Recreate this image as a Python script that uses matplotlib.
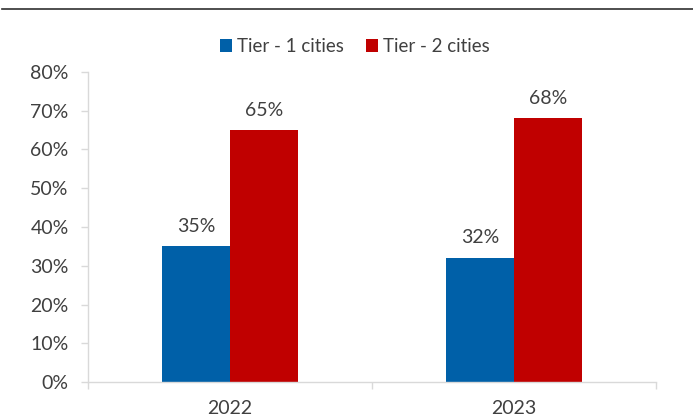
import numpy as np
import matplotlib.pyplot as plt
from matplotlib.lines import Line2D

plt.rcParams['font.family'] = ['Lato', 'DejaVu Sans']

years = ["2022", "2023"]
tier1 = [35, 32]
tier2 = [65, 68]
series_names = ["Tier - 1 cities", "Tier - 2 cities"]
colors = ["#0060A8", "#C00000"]
text_color = "#404040"
grid_gray = "#D9D9D9"

fig = plt.figure(figsize=(6.93, 4.19), dpi=100)
ax = fig.add_axes([88 / 693, 1 - 382 / 419, (656 - 88) / 693, (382 - 72) / 419])

x = np.arange(len(years))
w = 0.24
b1 = ax.bar(x - w / 2, tier1, w, color=colors[0], label=series_names[0])
b2 = ax.bar(x + w / 2, tier2, w, color=colors[1], label=series_names[1])

for bars, vals in ((b1, tier1), (b2, tier2)):
    for r, v in zip(bars, vals):
        ax.text(r.get_x() + r.get_width() / 2, v + 3.0, f"{v}%",
                ha="center", va="bottom", fontsize=14, color=text_color)

ax.set_xlim(-0.5, 1.5)
ax.set_ylim(0, 80)
ax.set_yticks(range(0, 81, 10))
ax.set_yticklabels([f"{t}%" for t in range(0, 81, 10)])
ax.set_xticks(x)
ax.set_xticklabels(years)
ax.set_xticks([-0.5, 0.5, 1.5], minor=True)

for s in ("top", "right"):
    ax.spines[s].set_visible(False)
for s in ("left", "bottom"):
    ax.spines[s].set_color(grid_gray)
    ax.spines[s].set_linewidth(1)

ax.tick_params(axis="y", colors=grid_gray, labelcolor=text_color, labelsize=14,
               length=5, width=1, pad=9)
ax.tick_params(axis="x", which="major", length=0, labelsize=14,
               labelcolor=text_color, pad=13)
ax.tick_params(axis="x", which="minor", length=5, width=1, colors=grid_gray)

ax.legend(loc="upper center", bbox_to_anchor=(0.47, 1.165), ncol=2, frameon=False,
          fontsize=13.5, handlelength=0.65, handleheight=0.7, handletextpad=0.25,
          columnspacing=1.2, labelcolor=text_color)

fig.add_artist(Line2D([2 / 693, 1], [1 - 9 / 419] * 2, color="#303030", lw=1.2))

fig.savefig("out.png", dpi=100)
